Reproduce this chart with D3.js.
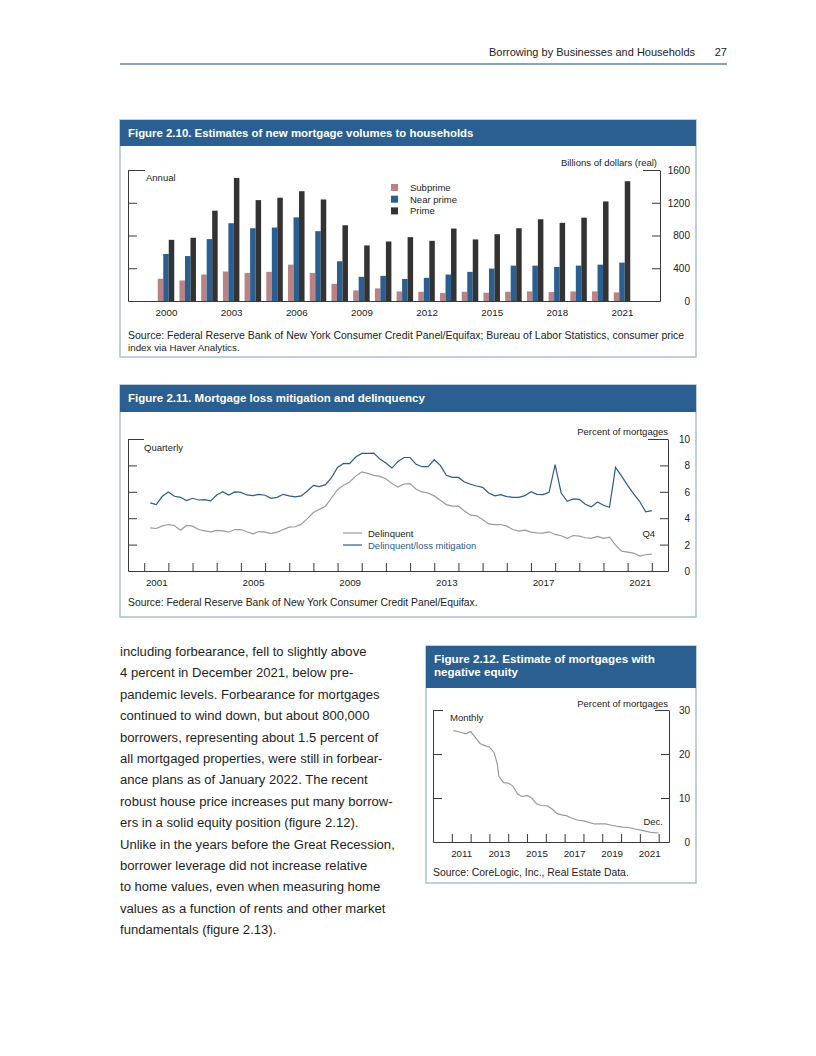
<!DOCTYPE html>
<html>
<head>
<meta charset="utf-8">
<script src="https://cdn.jsdelivr.net/npm/d3@7"></script>
<style>
  body { margin: 0; background: #fff; }
  svg { display: block; }
  text { font-family: 'Liberation Sans', Arial, sans-serif; }
  .axis path, .axis line { stroke: #3a3a3a; stroke-width: 1; }
  .axis text { fill: #222; font-family: 'Liberation Sans', Arial, sans-serif; }
</style>
</head>
<body>
<svg id="page" width="816" height="1056"></svg>
<script>
// ---- Figure 2.10 data (billions of real dollars, annual) ----
const volYears = [2000, 2001, 2002, 2003, 2004, 2005, 2006, 2007, 2008, 2009, 2010,
  2011, 2012, 2013, 2014, 2015, 2016, 2017, 2018, 2019, 2020, 2021];
const subprime = [271, 251, 323, 360, 343, 356, 444, 343, 210, 129, 154,
  117, 113, 97, 113, 101, 113, 117, 109, 117, 117, 105];
const nearPrime = [574, 549, 756, 950, 889, 897, 1022, 853, 485, 295, 307,
  269, 283, 323, 356, 396, 432, 432, 416, 432, 444, 469];
const prime = [747, 772, 1103, 1503, 1232, 1261, 1341, 1240, 925, 679, 727,
  780, 735, 885, 752, 816, 889, 998, 954, 1018, 1216, 1463];
const volTicks = [0, 400, 800, 1200, 1600];
const volYearLabels = [2000, 2003, 2006, 2009, 2012, 2015, 2018, 2021];

// ---- Figure 2.11 data (percent of mortgages, quarterly 2001:Q1-2021:Q4) ----
const delinquent = [3.27, 3.22, 3.42, 3.52, 3.45, 3.09, 3.45, 3.40, 3.14, 3.04, 2.97, 3.07,
  3.04, 2.94, 3.14, 3.14, 2.97, 2.82, 2.99, 2.94, 2.84, 2.94, 3.14, 3.32,
  3.35, 3.55, 3.97, 4.43, 4.68, 4.91, 5.53, 6.16, 6.49, 6.74, 7.19, 7.50,
  7.40, 7.25, 7.17, 6.99, 6.62, 6.36, 6.59, 6.62, 6.19, 5.99, 5.91, 5.69,
  5.36, 5.03, 4.91, 4.91, 4.55, 4.23, 4.18, 3.90, 3.57, 3.52, 3.52, 3.40,
  3.14, 3.02, 3.09, 2.94, 2.89, 2.87, 2.97, 2.77, 2.67, 2.47, 2.69, 2.64,
  2.52, 2.47, 2.62, 2.47, 2.57, 1.96, 1.51, 1.43, 1.36, 1.13, 1.23, 1.28];
const lossMitigation = [5.16, 5.03, 5.66, 5.99, 5.66, 5.58, 5.33, 5.51, 5.38, 5.41, 5.31, 5.76,
  6.01, 5.76, 5.99, 5.96, 5.76, 5.71, 5.81, 5.74, 5.51, 5.58, 5.81, 5.69,
  5.61, 5.69, 6.06, 6.49, 6.39, 6.54, 7.07, 7.85, 8.15, 8.13, 8.63, 8.91,
  8.91, 8.93, 8.48, 8.18, 7.80, 8.30, 8.60, 8.60, 8.08, 7.90, 7.90, 8.43,
  8.00, 7.25, 7.09, 7.09, 6.74, 6.57, 6.44, 6.34, 5.91, 5.69, 5.79, 5.64,
  5.58, 5.58, 5.71, 6.01, 5.81, 5.79, 5.96, 8.05, 5.91, 5.28, 5.46, 5.43,
  5.06, 4.86, 5.23, 4.98, 4.83, 7.85, 7.19, 6.49, 5.84, 5.26, 4.48, 4.58];
const firstQuarterYear = 2001;
const delTicks = [0, 2, 4, 6, 8, 10];
const delYearLabels = [2001, 2005, 2009, 2013, 2017, 2021];

// ---- Figure 2.12 data (percent of mortgages, monthly) ----
const negDates = ['2011-01', '2011-05', '2011-09', '2011-12', '2012-03', '2012-06', '2012-09',
  '2012-12', '2013-03', '2013-05', '2013-06', '2013-09', '2013-12', '2014-03', '2014-06',
  '2014-09', '2014-12', '2015-03', '2015-06', '2015-09', '2016-01', '2016-04', '2016-07',
  '2016-10', '2017-01', '2017-04', '2017-08', '2017-12', '2018-03', '2018-07', '2018-11',
  '2019-02', '2019-06', '2019-09', '2020-01', '2020-05', '2020-09', '2021-02', '2021-07', '2021-12'];
const negEquity = [25.3, 25.0, 24.6, 25.1, 23.8, 22.4, 21.9, 21.6, 20.3, 17.8, 15.0, 13.5,
  13.4, 12.7, 10.9, 10.3, 10.6, 10.0, 8.7, 8.3, 8.2, 7.5, 6.5, 6.15,
  6.0, 5.5, 5.0, 4.8, 4.5, 4.1, 4.1, 4.1, 3.8, 3.6, 3.4, 3.3, 2.95, 2.6, 2.2, 2.05];
const negTicks = [0, 10, 20, 30];
const negYearLabels = [2011, 2013, 2015, 2017, 2019, 2021];

const bodyLines = [
  'including forbearance, fell to slightly above',
  '4 percent in December 2021, below pre-',
  'pandemic levels. Forbearance for mortgages',
  'continued to wind down, but about 800,000',
  'borrowers, representing about 1.5 percent of',
  'all mortgaged properties, were still in forbear-',
  'ance plans as of January 2022. The recent',
  'robust house price increases put many borrow-',
  'ers in a solid equity position (figure 2.12).',
  'Unlike in the years before the Great Recession,',
  'borrower leverage did not increase relative',
  'to home values, even when measuring home',
  'values as a function of rents and other market',
  'fundamentals (figure 2.13).'
];

const headBlue = '#2b5f92';
const boxLine = '#a9c0d6';
const narrow = "'Liberation Sans Narrow', 'Liberation Sans', Arial, sans-serif";

const svg = d3.select('#page');

// scale a text's font size so it spans the given width
function fitWidth(sel, w) {
  const len = sel.node().getComputedTextLength();
  const fs = parseFloat(sel.attr('font-size'));
  sel.attr('font-size', (fs * w / len).toFixed(2));
  return sel;
}

function panel(x, y, w, h, headH, titles, titleWidths) {
  const g = svg.append('g');
  g.append('rect').attr('x', x).attr('y', y).attr('width', w).attr('height', h)
    .attr('fill', '#fff').attr('stroke', boxLine).attr('stroke-width', 1.5);
  g.append('rect').attr('x', x).attr('y', y).attr('width', w).attr('height', headH)
    .attr('fill', headBlue);
  titles.forEach((t, i) => {
    const tx = g.append('text').attr('x', x + 8).attr('y', y + 17 + i * 12.5)
      .attr('fill', '#fff').attr('font-size', 11.5).attr('font-weight', 'bold').text(t);
    fitWidth(tx, titleWidths[i]);
  });
  return g;
}

function label(g, x, y, txt, opts = {}) {
  return g.append('text').attr('x', x).attr('y', y)
    .attr('font-family', opts.family || narrow)
    .attr('font-size', opts.size || 9.5)
    .attr('fill', opts.fill || '#222')
    .attr('text-anchor', opts.anchor || 'start')
    .text(txt);
}

// value axes on both sides; the top tick is drawn longer
function valueAxes(g, y, ticks, left, right, topLeft, topRight) {
  const top = ticks[ticks.length - 1];
  const la = g.append('g').attr('class', 'axis').attr('transform', `translate(${left},0)`)
    .call(d3.axisLeft(y).tickValues(ticks.filter(d => d > 0)).tickSizeInner(-9).tickSizeOuter(0).tickFormat(''));
  la.selectAll('.tick line').filter(d => d === top).attr('x2', topLeft);
  const ra = g.append('g').attr('class', 'axis').attr('transform', `translate(${right},0)`)
    .call(d3.axisRight(y).tickValues(ticks).tickSizeInner(-8).tickSizeOuter(0).tickPadding(0)
      .tickFormat(d3.format('d')));
  ra.selectAll('.tick line').filter(d => d === 0).remove();
  ra.selectAll('.tick line').filter(d => d === top).attr('x2', -topRight);
  ra.selectAll('text').attr('text-anchor', 'end').attr('x', 690 - right)
    .attr('font-size', 10).attr('dy', '0.34em');
  ra.select('.domain').remove();
  g.append('g').attr('class', 'axis').attr('transform', `translate(${right},0)`)
    .call(d3.axisRight(y).tickValues([]).tickSizeOuter(0));
}

// ---------- page header ----------
svg.append('text').attr('x', 695).attr('y', 56).attr('text-anchor', 'end')
  .attr('font-size', 11).attr('fill', '#222').text('Borrowing by Businesses and Households');
svg.append('text').attr('x', 727).attr('y', 56).attr('text-anchor', 'end')
  .attr('font-size', 11).attr('fill', '#222').text('27');
svg.append('line').attr('x1', 120).attr('x2', 727).attr('y1', 64).attr('y2', 64)
  .attr('stroke', '#8ca2b6').attr('stroke-width', 2);

// ---------- Figure 2.10 ----------
{
  const g = panel(120, 120, 576, 237, 26,
    ['Figure 2.10. Estimates of new mortgage volumes to households'], [346]);
  const x = d3.scaleLinear().domain([1998.25, 2022.75]).range([128, 660]);
  const y = d3.scaleLinear().domain([0, 1600]).range([301, 170]);
  const bw = 5.5;
  const series = [
    { name: 'Subprime', values: subprime, color: '#b98283', off: -1.5 },
    { name: 'Near prime', values: nearPrime, color: '#2b5f92', off: -0.5 },
    { name: 'Prime', values: prime, color: '#333333', off: 0.5 }
  ];
  series.forEach(s => {
    g.append('g').selectAll('rect').data(volYears).join('rect')
      .attr('x', (d) => x(d) + s.off * bw)
      .attr('width', bw)
      .attr('y', (d, i) => y(s.values[i]))
      .attr('height', (d, i) => y(0) - y(s.values[i]))
      .attr('fill', s.color);
  });
  valueAxes(g, y, volTicks, 128, 660, 17, 17);
  g.append('g').attr('class', 'axis').attr('transform', 'translate(0,301)')
    .call(d3.axisBottom(x).tickValues(volYearLabels).tickSize(0).tickPadding(8).tickFormat(d3.format('d')))
    .selectAll('text').attr('font-size', 9.8);

  label(g, 657, 166, 'Billions of dollars (real)', { anchor: 'end' });
  label(g, 146, 181, 'Annual');
  series.forEach((s, i) => {
    g.append('rect').attr('x', 391).attr('y', 184 + i * 11.7).attr('width', 7).attr('height', 7)
      .attr('fill', s.color);
    label(g, 410, 191 + i * 11.7, s.name);
  });
  fitWidth(label(g, 128, 339, 'Source: Federal Reserve Bank of New York Consumer Credit Panel/Equifax; Bureau of Labor Statistics, consumer price',
    { family: "'Liberation Sans', Arial, sans-serif", size: 10 }), 556);
  label(g, 128, 351, 'index via Haver Analytics.', { family: "'Liberation Sans', Arial, sans-serif", size: 9.8 });
}

// ---------- Figure 2.11 ----------
{
  const g = panel(120, 385, 576, 232, 27,
    ['Figure 2.11. Mortgage loss mitigation and delinquency'], [297]);
  const x = d3.scaleLinear().domain([2000.33, 2022.67]).range([128, 668]);
  const y = d3.scaleLinear().domain([0, 10]).range([571, 439]);
  const qx = i => firstQuarterYear + (i + 1) / 4;

  valueAxes(g, y, delTicks, 128, 668, 16, 20);
  g.append('g').attr('class', 'axis').attr('transform', 'translate(0,571)')
    .call(d3.axisBottom(x).tickValues(d3.range(2001, 2023)).tickSizeInner(-8).tickSizeOuter(0).tickFormat(''));
  g.append('g').attr('class', 'axis').attr('transform', 'translate(0,571)')
    .call(d3.axisBottom(x).tickValues(delYearLabels.map(d => d + 0.5)).tickSize(0).tickPadding(8)
      .tickFormat(d => Math.floor(d)))
    .call(a => a.select('.domain').remove())
    .selectAll('text').attr('font-size', 9.8);

  const line = d3.line().x((d, i) => x(qx(i))).y(d => y(d));
  g.append('path').datum(delinquent).attr('d', line).attr('fill', 'none')
    .attr('stroke', '#9b9b9b').attr('stroke-width', 1.2);
  g.append('path').datum(lossMitigation).attr('d', line).attr('fill', 'none')
    .attr('stroke', '#2c5b8c').attr('stroke-width', 1.2);

  label(g, 668, 435, 'Percent of mortgages', { anchor: 'end' });
  label(g, 144, 451, 'Quarterly');
  g.append('line').attr('x1', 343).attr('x2', 362).attr('y1', 533).attr('y2', 533)
    .attr('stroke', '#9b9b9b').attr('stroke-width', 1.2);
  g.append('line').attr('x1', 343).attr('x2', 362).attr('y1', 545).attr('y2', 545)
    .attr('stroke', '#2c5b8c').attr('stroke-width', 1.2);
  label(g, 368, 536.5, 'Delinquent');
  label(g, 368, 548.5, 'Delinquent/loss mitigation', { fill: '#2c5b8c' });
  label(g, x(qx(delinquent.length - 1)) - 3, 537, 'Q4', { anchor: 'middle' });
  fitWidth(label(g, 128, 606, 'Source: Federal Reserve Bank of New York Consumer Credit Panel/Equifax.',
    { family: "'Liberation Sans', Arial, sans-serif", size: 10 }), 350);
}

// ---------- Figure 2.12 ----------
{
  const g = panel(426, 646, 270, 237, 42,
    ['Figure 2.12. Estimate of mortgages with', 'negative equity'], [221, 84]);
  const x = d3.scaleLinear().domain([2010.0, 2022.55]).range([433, 669]);
  const y = d3.scaleLinear().domain([0, 30]).range([842, 710]);
  const mx = s => +s.slice(0, 4) + (+s.slice(5, 7)) / 12;

  valueAxes(g, y, negTicks, 433, 669, 10, 14);
  g.append('g').attr('class', 'axis').attr('transform', 'translate(0,842)')
    .call(d3.axisBottom(x).tickValues(d3.range(2011, 2023)).tickSizeInner(-8).tickSizeOuter(0).tickFormat(''));
  g.append('g').attr('class', 'axis').attr('transform', 'translate(0,842)')
    .call(d3.axisBottom(x).tickValues(negYearLabels.map(d => d + 0.5)).tickSize(0).tickPadding(8)
      .tickFormat(d => Math.floor(d)))
    .call(a => a.select('.domain').remove())
    .selectAll('text').attr('font-size', 9.8);

  g.append('path').datum(negEquity)
    .attr('d', d3.line().x((d, i) => x(mx(negDates[i]))).y(d => y(d)))
    .attr('fill', 'none').attr('stroke', '#9b9b9b').attr('stroke-width', 1.2);

  label(g, 668, 707, 'Percent of mortgages', { anchor: 'end' });
  label(g, 450, 721, 'Monthly');
  label(g, 663, 825, 'Dec.', { anchor: 'end' });
  fitWidth(label(g, 433, 876, 'Source: CoreLogic, Inc., Real Estate Data.',
    { family: "'Liberation Sans', Arial, sans-serif", size: 10 }), 196);
}

// ---------- body text ----------
{
  const g = svg.append('g');
  const t = g.selectAll('text').data(bodyLines).join('text')
    .attr('x', 120).attr('y', (d, i) => 656 + i * 21.4)
    .attr('font-size', 12).attr('fill', '#1e1e1e').text(d => d);
  const longest = t.nodes()[9].getComputedTextLength();
  t.attr('font-size', (12 * 275 / longest).toFixed(2));
}
</script>
</body>
</html>
